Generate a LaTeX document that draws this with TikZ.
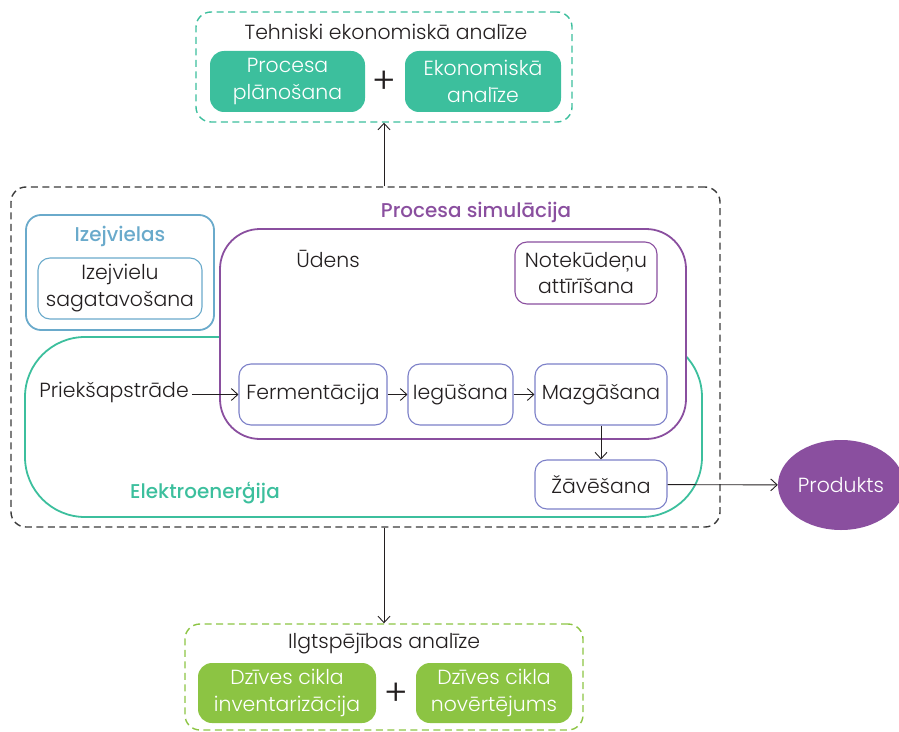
\documentclass[tikz,border=0pt]{standalone}
\usepackage{fontspec}
\setmainfont{Poppins}[UprightFont=* Light, BoldFont=* Medium]
\usetikzlibrary{arrows.meta,shapes.geometric}

\definecolor{cTeal}{HTML}{3CBF9D}
\definecolor{cBlue}{HTML}{6AAACB}
\definecolor{cPurple}{HTML}{8A4F9F}
\definecolor{cNode}{HTML}{7C80C8}
\definecolor{cLime}{HTML}{8CC443}
\definecolor{cDash}{HTML}{3A3A3A}
\definecolor{cText}{HTML}{231F20}

\newcommand{\bodyfont}{\fontsize{20.5}{27}\selectfont}
\newcommand{\headfont}{\bfseries\fontsize{20}{24}\selectfont}

\tikzset{
  txt/.style={font=\bodyfont, text=cText, inner sep=0pt},
  head/.style={font=\headfont, inner sep=0pt},
  fillbox/.style={rounded corners=14bp, text=white, align=center, inner sep=0pt,
    font=\bodyfont},
  stepbox/.style={draw=cNode, line width=1.1bp, rounded corners=12bp, align=center,
    inner sep=0pt, text=cText, font=\bodyfont, fill=white},
  dashbox/.style={rounded corners=15bp, line width=1.4bp, dash pattern=on 7bp off 4.5bp,
    inner sep=0pt},
  plus/.style={font=\fontsize{36}{36}\selectfont, text=cText, inner sep=0pt},
  arr/.style={draw=cText, line width=0.9bp, -{Straight Barb[length=6.5bp,width=12bp]}},
}

\begin{document}
\begin{tikzpicture}[x=1bp, y=-1bp]
\useasboundingbox (0,0) rectangle (899,732);

% outer frames
\node[dashbox, draw=cTeal, minimum width=376bp, minimum height=110bp] (topbox) at (384,67) {};
\node[dashbox, draw=cDash, minimum width=709bp, minimum height=340bp] (bigbox) at (365.5,357) {};
\node[dashbox, draw=cLime, minimum width=398bp, minimum height=106bp] (botbox) at (384,677) {};

% techno-economic analysis
\node[txt] (tea) at (386,32) {Tehniski ekonomiskā analīze};
\node[fillbox, fill=cTeal, minimum width=155bp, minimum height=61bp] (plan) at (287.5,81.5) {Procesa\\plānošana};
\node[fillbox, fill=cTeal, minimum width=156bp, minimum height=61bp] (econ) at (483,81.5) {Ekonomiskā\\analīze};
\node[plus] (plus1) at (384.5,82) {+};

% sustainability analysis
\node[txt] (sus) at (384,644) {Ilgtspējības analīze};
\node[fillbox, fill=cLime, minimum width=178bp, minimum height=60bp] (lci) at (287,693) {Dzīves cikla\\inventarizācija};
\node[fillbox, fill=cLime, minimum width=156bp, minimum height=60bp] (lca) at (494,693) {Dzīves cikla\\novērtējums};
\node[plus] (plus2) at (396,694) {+};

% electricity region
\draw[cTeal, line width=1.8bp, rounded corners=60bp] (25,337) rectangle (702,517);
\node[head, text=cTeal] (elec) at (205,493) {Elektroenerģija};

% raw materials
\draw[cBlue, line width=1.8bp, rounded corners=15bp] (26,215) rectangle (214,330);
\node[head, text=cBlue] (raw) at (120,236) {Izejvielas};
\node[stepbox, draw=cBlue, minimum width=164bp, minimum height=61bp] (prep) at (120,288.5) {Izejvielu\\sagatavošana};

% process simulation
\draw[cPurple, line width=1.8bp, rounded corners=40bp, fill=white] (220,229) rectangle (686,439);
\node[head, text=cPurple] (sim) at (476,212) {Procesa simulācija};
\node[txt] (water) at (328,259) {Ūdens};
\node[stepbox, draw=cPurple, minimum width=142bp, minimum height=62bp] (waste) at (586,273) {Notekūdeņu\\attīrīšana};

% process steps
\node[txt] (pre) at (114,392) {Priekšapstrāde};
\node[stepbox, minimum width=148bp, minimum height=61bp] (ferm) at (313,394.5) {Fermentācija};
\node[stepbox, minimum width=105bp, minimum height=61bp] (extr) at (460.5,394.5) {Iegūšana};
\node[stepbox, minimum width=132bp, minimum height=61bp] (wash) at (601,394.5) {Mazgāšana};
\node[stepbox, minimum width=132bp, minimum height=49bp] (dry) at (601,484.5) {Žāvēšana};

% product
\node[ellipse, fill=cPurple, minimum width=126bp, minimum height=90bp, inner sep=0pt,
  text=white, font=\bodyfont] (prod) at (841,485) {Produkts};

% connectors
\draw[arr] ([xshift=3bp]pre.east |- ferm.west) -- (ferm.west);
\draw[arr] (ferm) -- (extr);
\draw[arr] (extr) -- (wash);
\draw[arr] (wash) -- (dry);
\draw[arr] (dry) -- (prod);
\draw[arr] (bigbox.north -| topbox.south) -- (topbox.south);
\draw[arr] (bigbox.south -| botbox.north) -- (botbox.north);
\end{tikzpicture}
\end{document}
